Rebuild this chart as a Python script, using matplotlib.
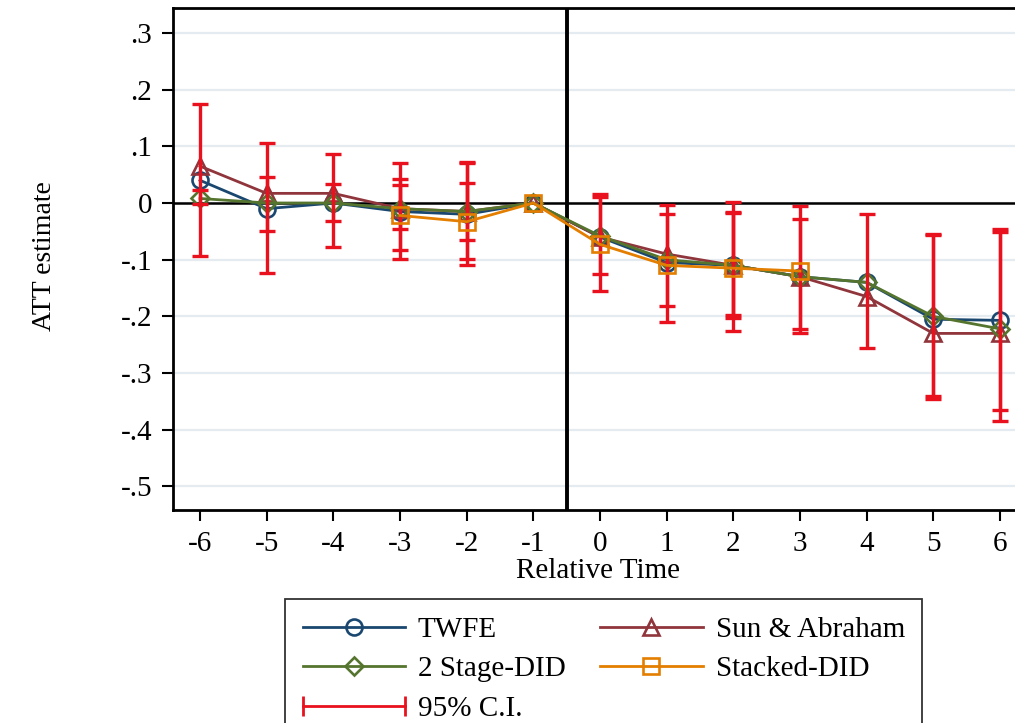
"""
Event-study plot: ATT estimates by relative time for four estimators
"""

import numpy as np
import matplotlib.pyplot as plt
from matplotlib.lines import Line2D
from matplotlib.legend_handler import HandlerLine2D

plt.rcParams["font.family"] = ["Liberation Serif", "DejaVu Serif"]

rel_time = [-6, -5, -4, -3, -2, -1, 0, 1, 2, 3, 4, 5, 6]
nan = np.nan

twfe = [0.040, -0.010, 0.000, -0.015, -0.020, 0.0, -0.060, -0.105, -0.110, -0.130, -0.140, -0.205, -0.207]
sun_abraham = [0.065, 0.017, 0.017, -0.010, -0.015, 0.0, -0.060, -0.090, -0.110, -0.130, -0.165, -0.230, -0.230]
two_stage = [0.008, 0.000, 0.000, -0.010, -0.015, 0.0, -0.058, -0.100, -0.110, -0.130, -0.140, -0.200, -0.222]
stacked = [nan, nan, nan, -0.022, -0.033, 0.0, -0.073, -0.110, -0.115, -0.120, nan, nan, nan]

# 95% confidence intervals (lower, upper)
ci_twfe_lo = [-0.093, -0.124, -0.078, -0.099, -0.109, nan, -0.125, -0.182, -0.198, -0.222, -0.255, -0.341, -0.365]
ci_twfe_hi = [0.175, 0.105, 0.086, 0.070, 0.073, nan, 0.011, -0.019, -0.018, -0.028, -0.019, -0.054, -0.045]
ci_2s_lo = [-0.002, -0.049, -0.031, -0.046, -0.066, nan, nan, nan, -0.203, nan, nan, -0.345, -0.384]
ci_2s_hi = [0.023, 0.045, 0.033, 0.031, 0.035, nan, nan, nan, -0.015, nan, nan, -0.056, -0.052]
ci_st_lo = [nan, nan, nan, -0.083, -0.099, nan, -0.156, -0.209, -0.226, -0.230, nan, nan, nan]
ci_st_hi = [nan, nan, nan, 0.042, 0.070, nan, 0.016, -0.004, 0.001, -0.005, nan, nan, nan]

y_ticks = [0.3, 0.2, 0.1, 0.0, -0.1, -0.2, -0.3, -0.4, -0.5]
y_labels = [".3", ".2", ".1", "0", "-.1", "-.2", "-.3", "-.4", "-.5"]

NAVY = "#1a476f"
MAROON = "#90353b"
GREEN = "#55752f"
ORANGE = "#e37e00"
RED = "#e8111d"

FS = 21

fig = plt.figure(figsize=(10.15, 7.23), dpi=100)
ax = fig.add_axes([173 / 1015, 1 - 510 / 723, (1024 - 173) / 1015, (510 - 8) / 723])

x = np.array(rel_time, dtype=float)

for yv in y_ticks:
    ax.axhline(yv, color="#e4ebf1", lw=1.6, zorder=0)
ax.axhline(0, color="black", lw=1.8, zorder=1)
ax.axvline(-0.5, color="black", lw=2.8, zorder=1)


def draw_ci(lo, hi, z):
    lo = np.array(lo, dtype=float)
    hi = np.array(hi, dtype=float)
    ok = ~np.isnan(lo)
    mid = (lo[ok] + hi[ok]) / 2
    ax.errorbar(x[ok], mid, yerr=[mid - lo[ok], hi[ok] - mid], fmt="none",
                ecolor=RED, elinewidth=2.4, capsize=5.5, capthick=2.4, zorder=z)


series = [
    (twfe, NAVY, "o", "TWFE"),
    (sun_abraham, MAROON, "^", "Sun & Abraham"),
    (two_stage, GREEN, "D", "2 Stage-DID"),
    (stacked, ORANGE, "s", "Stacked-DID"),
]

handles = {}
for i, (vals, col, mk, lab) in enumerate(series):
    v = np.array(vals, dtype=float)
    ok = ~np.isnan(v)
    ms = 9.5 if mk == "D" else 11.5
    h, = ax.plot(x[ok], v[ok], color=col, lw=2, marker=mk, ms=ms,
                 mfc="none", mec=col, mew=1.9, zorder=3 + i, label=lab)
    handles[lab] = h

draw_ci(ci_twfe_lo, ci_twfe_hi, 5.5)
draw_ci(ci_2s_lo, ci_2s_hi, 5.5)
draw_ci(ci_st_lo, ci_st_hi, 5.5)

ax.set_xlim((173 - 200) / (800 / 12) - 6, (1024 - 200) / (800 / 12) - 6)
ax.set_ylim((203 - 510) / 567, (203 - 8) / 567)

ax.set_xticks(rel_time)
ax.set_xticklabels([str(t) for t in rel_time], fontsize=FS)
ax.set_yticks(y_ticks)
ax.set_yticklabels(y_labels, fontsize=FS)
ax.tick_params(axis="both", direction="out", length=8, width=1.5, color="black", pad=7)

for sp in ax.spines.values():
    sp.set_linewidth(2)
    sp.set_color("black")

ax.set_xlabel("Relative Time", fontsize=FS, labelpad=1)
fig.text(45 / 1015, 1 - 256 / 723, "ATT estimate", rotation=90,
         fontsize=FS - 1, ha="center", va="center")


class FullCapHandler(HandlerLine2D):
    # line with caps at the very ends of the handle, like Stata's rcap key
    def create_artists(self, legend, orig_handle, xdescent, ydescent,
                       width, height, fontsize, trans):
        y = height / 2 - ydescent
        x0, x1 = -xdescent, width - xdescent
        line = Line2D([x0, x1], [y, y], color=RED, lw=2, transform=trans)
        caps = Line2D([x0, x1], [y, y], color=RED, lw=0, marker="|",
                      ms=15, mew=2, transform=trans)
        return [line, caps]


ci_proxy = Line2D([], [], color=RED, lw=2)

leg_handles = [handles["TWFE"], handles["2 Stage-DID"], ci_proxy,
               handles["Sun & Abraham"], handles["Stacked-DID"]]
leg_labels = ["TWFE", "2 Stage-DID", "95% C.I.", "Sun & Abraham", "Stacked-DID"]

leg = fig.legend(leg_handles, leg_labels, ncol=2, loc="upper left",
                 bbox_to_anchor=(285 / 1015, 1 - 599 / 723), fontsize=FS,
                 frameon=True, fancybox=False, edgecolor="black",
                 handlelength=3.5, handletextpad=0.45, columnspacing=1.2,
                 labelspacing=0.45, borderpad=0.6, borderaxespad=0,
                 handler_map={ci_proxy: FullCapHandler()})
leg.get_frame().set_linewidth(1.3)

fig.savefig("out.png", dpi=100)
